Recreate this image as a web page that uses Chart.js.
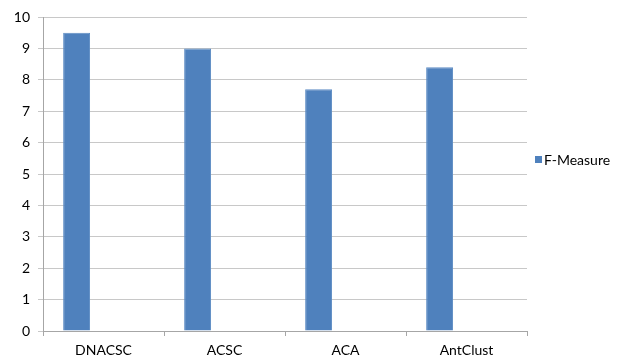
<!DOCTYPE html>
<html>
<head>
<meta charset="utf-8">
<script src="https://cdn.jsdelivr.net/npm/chart.js@4/dist/chart.umd.min.js"></script>
<style>
  html, body { margin: 0; padding: 0; background: #fff; }
  #wrap { width: 619px; height: 360px; position: relative; }
</style>
</head>
<body>
<div id="wrap"><canvas id="c" width="619" height="360"></canvas></div>
<script>
// Categories and values
const categories = ['DNACSC', 'ACSC', 'ACA', 'AntClust'];
const fMeasure = [9.5, 9.0, 7.7, 8.4];
// Two empty series keep the bar slots of the original three-series layout
const emptySeries = [null, null, null, null];
const yTicks = [0, 1, 2, 3, 4, 5, 6, 7, 8, 9, 10];

const FONT = { family: 'Lato, "Open Sans", sans-serif', size: 14 };
const BAR_COLOR = '#4F81BD';

// Legend drawn beside the plot, vertically placed like a spreadsheet chart legend
const sideLegend = {
  id: 'sideLegend',
  afterDraw(chart) {
    const ds = chart.data.datasets[0];
    const ctx = chart.ctx;
    const x = chart.chartArea.right + 8;
    const y = 160;
    ctx.save();
    ctx.fillStyle = ds.backgroundColor;
    ctx.fillRect(x, y - 4, 7, 7);
    ctx.fillStyle = '#000';
    ctx.font = `${FONT.size}px ${FONT.family}`;
    ctx.textBaseline = 'middle';
    ctx.textAlign = 'left';
    ctx.fillText(ds.label, x + 9, y);
    ctx.restore();
  }
};

new Chart(document.getElementById('c'), {
  type: 'bar',
  data: {
    labels: categories,
    datasets: [
      { label: 'F-Measure', data: fMeasure, backgroundColor: BAR_COLOR, borderColor: '#5E8DC4', borderWidth: 1 },
      { label: 's2', data: emptySeries, backgroundColor: '#C0504D' },
      { label: 's3', data: emptySeries, backgroundColor: '#9BBB59' }
    ]
  },
  options: {
    responsive: false,
    animation: false,
    layout: { padding: { top: 17, left: 0, right: 92, bottom: 0 } },
    datasets: { bar: { categoryPercentage: 0.667, barPercentage: 1.0 } },
    plugins: {
      tooltip: { enabled: false },
      legend: { display: false }
    },
    scales: {
      x: {
        grid: { display: true, drawOnChartArea: false, drawTicks: true, tickLength: 5, color: '#A6A6A6', offset: true },
        border: { color: '#A6A6A6' },
        ticks: { color: '#000', font: FONT, padding: 6 },
        afterFit: (s) => { s.height = 29; }
      },
      y: {
        min: 0, max: 10,
        afterBuildTicks: (s) => { s.ticks = yTicks.map(v => ({ value: v })); },
        grid: { color: '#C8C8C8', tickLength: 5, drawTicks: true },
        border: { color: '#A6A6A6' },
        ticks: { color: '#000', font: FONT, padding: 8 },
        afterFit: (s) => { s.width = 43; }
      }
    }
  },
  plugins: [sideLegend]
});
</script>
</body>
</html>
